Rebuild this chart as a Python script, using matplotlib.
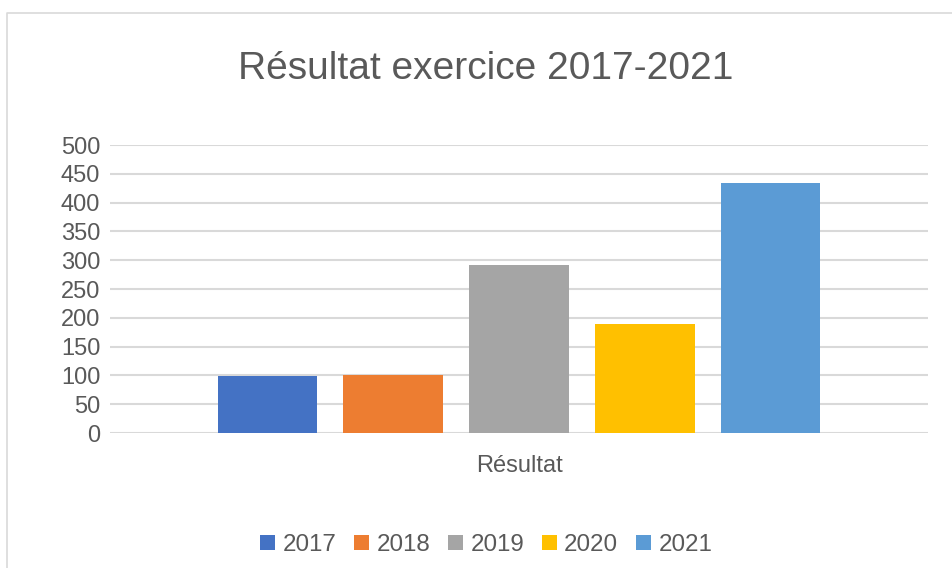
import numpy as np
import matplotlib
matplotlib.use("Agg")
import matplotlib.pyplot as plt
from matplotlib.lines import Line2D

years = ["2017", "2018", "2019", "2020", "2021"]
values = [99, 100, 292, 190, 434]
colors = ["#4472C4", "#ED7D31", "#A5A5A5", "#FFC000", "#5B9BD5"]
category = "Résultat"
title = "Résultat exercice 2017-2021"
yticks = list(range(0, 501, 50))

TEXT = "#595959"
GRID = "#D9D9D9"
W, H = 953, 568

plt.rcParams["font.family"] = ["Liberation Sans", "DejaVu Sans"]

fig = plt.figure(figsize=(W / 100, H / 100), dpi=100)
fig.patch.set_facecolor("white")

# chart border (only top and left edges show in the crop)
fig.add_artist(Line2D([7.5 / W, 7.5 / W, 1.0], [0.0, 1 - 12.5 / H, 1 - 12.5 / H],
                      transform=fig.transFigure, color=GRID, lw=1.2))

ax = fig.add_axes([110 / W, 1 - 433 / H, 818 / W, 288 / H])

x = np.arange(len(years))
for i, (yr, v, c) in enumerate(zip(years, values, colors)):
    ax.bar(x[i], v, width=0.79, color=c, label=yr, zorder=3)

ax.set_xlim(-1.25, 5.25)
ax.set_ylim(0, 500)
ax.set_yticks(yticks)
ax.set_yticklabels([str(t) for t in yticks])
ax.set_xticks([2])
ax.set_xticklabels([category])
ax.grid(axis="y", color=GRID, lw=1.5, zorder=0)
for s in ax.spines.values():
    s.set_visible(False)
ax.tick_params(axis="y", length=0, pad=7, labelsize=17, labelcolor=TEXT)
ax.tick_params(axis="x", length=0, pad=16, labelsize=17, labelcolor=TEXT)

fig.text(486 / W, 1 - 69 / H, title, ha="center", va="center",
         fontsize=28, color=TEXT)

fig.legend(loc="center", bbox_to_anchor=(486 / W, 1 - 545 / H), ncol=5,
           frameon=False, fontsize=17.4, labelcolor=TEXT,
           handlelength=0.64, handleheight=0.64, handletextpad=0.3,
           columnspacing=0.72, borderaxespad=0)

fig.savefig("out.png", dpi=100)
